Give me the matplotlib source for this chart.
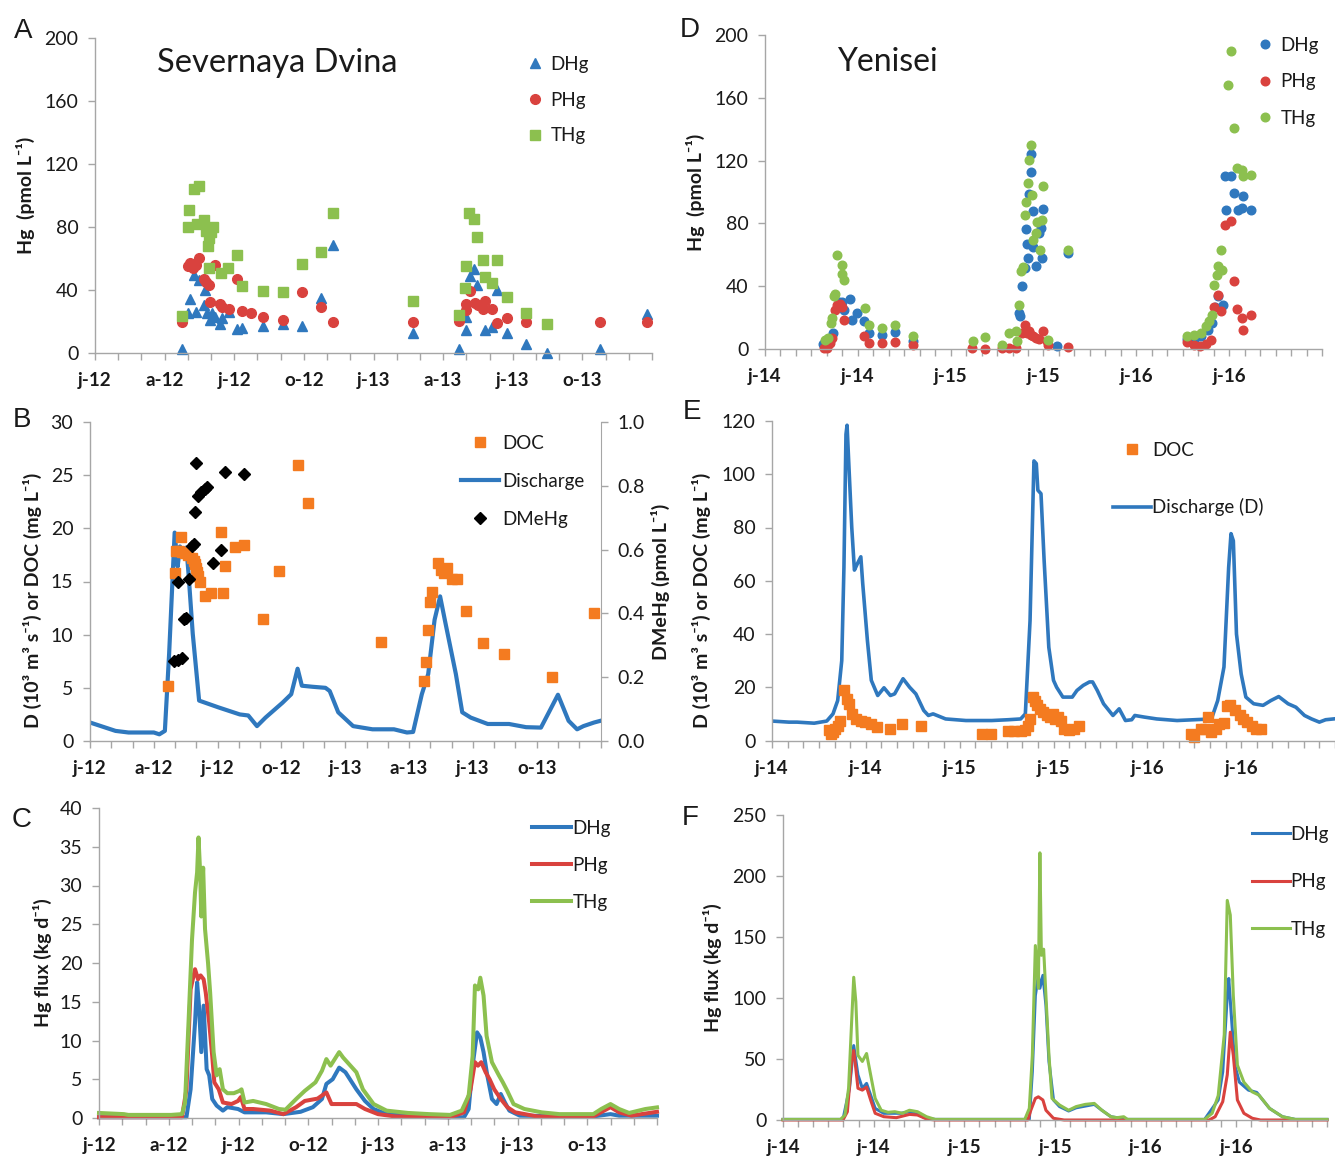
import matplotlib
matplotlib.use('Agg')
import matplotlib.pyplot as plt
from matplotlib.ticker import FormatStrFormatter

plt.rcParams['font.family'] = ['Lato', 'DejaVu Sans']

BLUE = '#2F78BE'
RED = '#D9423E'
GREEN = '#8CC04F'
ORANGE = '#F47B20'
AXC = '#A6A6A6'
TXT = '#1A1A1A'

# x values are months since 1 January of the first year shown
sd_labels = ['j-12', 'a-12', 'j-12', 'o-12', 'j-13', 'a-13', 'j-13', 'o-13']
ye_labels = ['j-14', 'j-14', 'j-15', 'j-15', 'j-16', 'j-16']

# --- A: Severnaya Dvina concentrations (pmol/L)
sd_dhg_m = [3.73, 4.0, 4.1, 4.28, 4.37, 4.47, 4.7, 4.74, 4.83, 4.96, 5.05, 5.17, 5.39, 5.47, 5.79, 6.14, 6.32, 7.26, 8.12, 8.9,
            9.74, 10.26, 13.7, 15.68, 16.0, 16.0, 16.14, 16.32, 16.45, 16.8, 17.1, 17.3, 17.76, 18.57, 19.49, 21.75, 23.79]
sd_dhg = [2.5, 25, 34, 49, 26, 46, 30, 40, 25, 20.7, 25.3, 22.8, 18, 21.7, 26, 14.7, 15.3, 16.8, 18, 16.8,
          34.5, 68.4, 12.6, 2.5, 22.8, 14.3, 48.8, 53, 43, 14.3, 16.4, 40, 12.6, 5.3, 0, 2.5, 24.5]
sd_phg_m = [3.73, 4.0, 4.1, 4.23, 4.34, 4.47, 4.7, 4.78, 4.93, 4.96, 5.17, 5.39, 5.47, 5.79, 6.14, 6.32, 6.73, 7.26, 8.12, 8.9,
            9.74, 10.26, 13.7, 15.68, 16.0, 16.0, 16.14, 16.36, 16.5, 16.7, 16.8, 17.1, 17.3, 17.76, 18.57, 21.75, 23.79]
sd_phg = [19.6, 54.7, 57, 53.7, 55.8, 60, 47, 45, 43, 32.4, 55.4, 31, 29, 27.5, 47, 26.6, 25.3, 22.8, 20.7, 38.3,
          28.8, 19.6, 19.6, 20, 27, 30.7, 38.8, 31.3, 30.2, 27.5, 32.8, 27.5, 18.5, 22, 19.6, 19.6, 19.6]
sd_thg_m = [3.73, 4.06, 4.0, 4.28, 4.47, 4.4, 4.7, 4.78, 4.87, 4.93, 5.0, 5.1, 4.93, 5.42, 5.75, 6.12, 6.32, 7.26, 8.12, 8.9,
            9.74, 10.26, 13.7, 15.68, 16.0, 15.96, 16.1, 16.32, 16.45, 16.7, 16.8, 17.1, 17.3, 17.76, 18.57, 19.49]
sd_thg = [23.4, 90.5, 80, 104, 106, 82, 84.5, 77, 68, 73, 76.5, 80, 53.7, 50.5, 54, 62, 42, 39, 38.3, 56,
          64, 89, 33, 24, 55, 41, 89, 85, 73.5, 59, 48, 44, 59, 35, 25, 18]

# --- D: Yenisei concentrations (pmol/L)
ye_dhg_m = [3.72, 4.0, 4.19, 4.4, 4.77, 4.96, 5.1, 5.5, 5.65, 5.92, 6.39, 6.75, 7.58, 8.4, 9.56, 16.4, 16.5, 16.6, 16.8, 16.86,
            16.94, 17.0, 17.08, 17.16, 17.2, 17.3, 17.35, 17.5, 17.7, 17.85, 17.9, 17.96, 18.87, 19.56, 27.27, 27.7, 28.2, 28.6, 28.9, 29.1,
            29.3, 29.6, 29.75, 30.1, 29.8, 30.3, 30.6, 30.8, 30.9, 31.4]
ye_dhg = [3.4, 2.8, 6, 10, 30, 30, 25, 32, 18.7, 22.7, 18, 10, 9, 10.8, 5, 22.9, 20.8, 40, 51.5, 76.6,
          67, 58, 99, 113, 124.5, 87.6, 65, 52.6, 73.8, 76.8, 58, 89, 1.7, 61, 6.4, 6, 8, 12.3, 16.5, 27,
          33.5, 28, 110, 110, 88.6, 99.5, 88.6, 90, 97.6, 88.4]
ye_phg_m = [3.8, 4.0, 4.19, 4.35, 4.55, 4.68, 4.82, 4.96, 5.1, 6.4, 6.75, 7.58, 8.4, 9.56, 13.4, 14.2, 15.3, 15.8, 16.2, 16.6,
            16.8, 16.94, 17.08, 17.2, 17.35, 17.5, 17.7, 17.96, 18.2, 18.3, 19.56, 27.27, 27.7, 28.1, 28.5, 28.8, 29.05, 29.3, 29.5, 29.75,
            30.1, 30.3, 30.5, 30.8, 30.9, 31.4]
ye_phg = [0.6, 0.6, 3.8, 7, 25, 27.8, 28.6, 26.5, 18.7, 8, 3.8, 3.8, 4.2, 2.8, 0.6, 0, 0.6, 0.6, 0.6, 10,
          15.5, 10, 11.2, 9, 8, 7, 6.4, 11.7, 5, 2.8, 1, 4.5, 2.8, 1.7, 3.4, 6, 27, 34.6, 24, 79,
          81.6, 43, 25.5, 19.7, 11.9, 21.4]
ye_thg_m = [3.86, 4.08, 4.27, 4.35, 4.46, 4.55, 4.68, 4.96, 5.0, 5.1, 6.47, 6.75, 7.58, 8.4, 9.56, 13.45, 14.2, 15.3, 15.8, 16.2,
            16.3, 16.4, 16.55, 16.7, 16.8, 16.9, 17.0, 17.08, 17.16, 17.27, 17.35, 17.5, 17.6, 17.8, 17.9, 17.99, 18.3, 19.56, 27.27, 27.7,
            28.2, 28.5, 28.7, 28.9, 29.05, 29.2, 29.3, 29.5, 29.56, 29.9, 30.1, 30.3, 30.5, 30.8, 30.9, 31.4]
ye_thg = [6, 7, 16.5, 20, 33.5, 35, 60, 53.7, 47.5, 44, 26, 15, 13.4, 15.3, 8, 5.3, 7.6, 2.8, 10, 11.2,
          5, 28, 50, 52.4, 85.5, 93.7, 105.6, 120.5, 130, 98, 69.6, 73.6, 81, 63, 82, 103.7, 6, 62.8, 8.5, 9,
          10, 14.4, 17.6, 21.8, 41, 47.3, 52.6, 63, 50.5, 168, 190, 140.6, 115, 114, 110, 110.7]

# --- B: Severnaya Dvina discharge (10^3 m3/s), DOC (mg/L), DMeHg (pmol/L)
sd_q_m = [0, 1.2, 1.81, 3.0, 3.26, 3.52, 3.72, 3.98, 4.12, 4.23, 4.39, 4.53, 4.63, 4.83, 5.13, 6.04, 7.04, 7.44, 7.85, 8.25,
          9.05, 9.46, 9.66, 9.76, 9.96, 10.46, 11.07, 11.27, 11.67, 12.37, 13.28, 14.29, 14.9, 15.19, 15.6, 15.9, 16.2, 16.46, 16.7, 17.2,
          17.5, 17.9, 18.7, 19.7, 20.5, 21.2, 21.6, 22.0, 22.5, 22.9, 23.2, 23.7, 24.0]
sd_q = [1.74, 0.95, 0.8, 0.8, 0.63, 0.95, 8.2, 19.6, 16.4, 18.3, 17.4, 18.2, 15.8, 10.1, 3.8, 3.16, 2.5, 2.4, 1.4, 2.2,
        3.6, 4.4, 6.0, 6.8, 5.2, 5.1, 5.0, 4.7, 2.7, 1.4, 1.1, 1.1, 0.8, 0.85, 4.4, 6.3, 11.4, 13.6, 11.2, 6.3,
        2.7, 2.2, 1.6, 1.6, 1.3, 1.26, 2.8, 4.35, 1.9, 1.1, 1.4, 1.74, 1.9]
sd_doc_m = [3.68, 3.98, 4.27, 4.06, 4.18, 4.33, 4.47, 4.63, 4.79, 4.87, 4.93, 4.99, 5.03, 5.09, 5.17, 5.39, 5.69, 6.24, 6.14, 6.34,
            6.84, 7.24, 8.13, 8.89, 9.76, 10.26, 13.68, 15.7, 15.8, 15.9, 16.0, 16.1, 16.34, 16.5, 16.66, 16.8, 17.04, 17.26, 17.7, 18.47,
            19.48, 21.7, 23.7]
sd_doc = [5.15, 15.8, 19.2, 17.9, 17.9, 17.8, 17.7, 17.5, 17.2, 16.9, 16.6, 16.3, 15.9, 15.5, 15.0, 13.6, 13.9, 13.9, 19.7, 16.5,
          18.2, 18.4, 11.5, 16.0, 26.0, 22.4, 9.3, 5.6, 7.4, 10.4, 13.1, 14.05, 16.7, 16.1, 15.8, 16.3, 15.2, 15.2, 12.2, 9.2,
          8.2, 6.0, 12.0]
sd_mehg_m = [3.96, 4.12, 4.33, 4.12, 4.43, 4.49, 4.67, 4.79, 4.87, 4.93, 4.99, 5.07, 5.23, 5.39, 5.49, 5.8, 6.14, 6.34, 7.24]
sd_mehg = [0.25, 0.255, 0.26, 0.50, 0.384, 0.387, 0.507, 0.61, 0.616, 0.718, 0.87, 0.768, 0.779, 0.79, 0.795, 0.558, 0.598, 0.844, 0.837]

# --- E: Yenisei discharge and DOC
ye_q_m = [0, 1.08, 1.6, 2.7, 3.5, 3.9, 4.2, 4.46, 4.6, 4.73, 4.8, 4.92, 5.1, 5.27, 5.46, 5.68, 5.8, 6.1, 6.35, 6.76,
          7.16, 7.57, 7.84, 8.38, 8.8, 9.2, 9.7, 10.0, 10.3, 11.1, 12.4, 14.05, 15.1, 15.9, 16.2, 16.5, 16.75, 16.9, 17.0, 17.2,
          17.4, 17.7, 18.0, 18.2, 18.6, 19.2, 19.5, 19.9, 20.3, 20.5, 20.8, 21.2, 21.8, 22.2, 22.6, 23.0, 23.2, 23.8, 24.6, 25.9,
          27.0, 28.1, 28.5, 28.9, 29.2, 29.35, 29.5, 29.7, 30.0, 30.3, 30.8, 31.4, 31.9, 32.4, 33.0, 33.5, 34.05, 34.5, 35.0, 35.4,
          35.9]
ye_q = [7.3, 6.9, 6.9, 6.5, 7.3, 10, 15, 30, 65, 115, 118.4, 102.8, 80, 64, 66.4, 69, 59, 37.6, 22.6, 16.9,
        19.8, 16.9, 17.5, 23.2, 20, 17.5, 11.3, 9.4, 10, 8.1, 7.5, 7.5, 7.8, 8.1, 10, 45, 105, 104, 94, 92.7,
        67.7, 35, 22.6, 20, 16.3, 16.3, 18.8, 20.7, 22, 22, 18.8, 13.8, 9.4, 11.9, 7.5, 7.8, 9.4, 8.8, 8.1, 7.5,
        7.8, 8.1, 15, 27.6, 65, 77.7, 75, 40, 25, 16.3, 13.8, 13.2, 15, 16.5, 13.8, 12.5, 9.4, 8.1, 6.9, 7.8,
        8.1]
ye_doc_m = [3.65, 3.78, 3.9, 4.05, 4.2, 4.32, 4.6, 4.8, 4.92, 5.1, 5.4, 5.68, 5.95, 6.35, 6.7, 7.57, 8.3, 9.5, 13.4, 14.0,
            15.1, 15.5, 15.9, 16.2, 16.35, 16.5, 16.7, 16.8, 16.97, 17.16, 17.35, 17.57, 17.8, 17.97, 18.1, 18.3, 18.5, 18.7, 18.97, 19.3,
            19.6, 26.8, 27.0, 27.4, 27.7, 27.9, 28.1, 28.4, 28.6, 28.9, 29.1, 29.3, 29.6, 29.9, 30.1, 30.4, 30.7, 30.95, 31.3]
ye_doc = [3.8, 2.5, 3.1, 4.4, 5.6, 7.5, 19, 15.7, 13.8, 10, 8.1, 7.5, 6.9, 6.3, 5, 4.4, 6.3, 5.4, 2.5, 2.5,
          3.4, 3.4, 3.4, 3.8, 5.6, 8.1, 16.3, 15, 13.2, 11.9, 10.7, 9.4, 8.8, 10, 8.1, 9, 7.5, 4.4, 4, 4.4,
          5.6, 2.5, 1.25, 4.4, 4.4, 8.8, 3.1, 4.4, 6.3, 6.5, 12.8, 13.2, 11.3, 9.4, 8.1, 6.9, 5.6, 4.4, 4.4]

# --- C: Severnaya Dvina Hg flux (kg/d)
sd_fdhg_m = [0, 3.76, 3.94, 4.13, 4.22, 4.3, 4.4, 4.5, 4.63, 4.74, 4.87, 5.06, 5.33, 5.52, 5.98, 6.26, 7.19, 7.93, 8.67, 9.2,
             9.59, 9.78, 10.05, 10.33, 10.6, 11.07, 11.44, 11.81, 12.37, 14.2, 15.7, 15.9, 16.07, 16.26, 16.4, 16.54, 16.7, 16.9, 17.1, 17.28,
             17.46, 17.65, 18.1, 21.26, 22.0, 22.37, 24.0]
sd_fdhg = [0.1, 0.1, 3.7, 12.3, 17.5, 14.5, 8.5, 14.5, 6.3, 5.5, 2.45, 1.6, 0.95, 1.4, 1.16, 0.73, 0.73, 0.5, 0.8, 1.4,
           2.45, 4.4, 5.0, 6.5, 5.9, 3.7, 2.2, 1.16, 0.5, 0.1, 0.1, 1.16, 6.75, 11.05, 10.4, 8.5, 5.5, 2.45, 1.8, 3.1,
           2.0, 0.95, 0.3, 0.2, 0.5, 0.3, 0.3]
sd_fphg_m = [0, 3.57, 3.76, 3.94, 4.13, 4.26, 4.37, 4.5, 4.59, 4.74, 4.87, 4.96, 5.15, 5.33, 5.7, 5.98, 6.1, 6.26, 6.63, 7.37,
             7.93, 8.48, 8.85, 9.4, 9.78, 10.0, 10.33, 11.07, 11.44, 12.0, 12.74, 15.1, 15.7, 15.98, 16.17, 16.3, 16.44, 16.63, 16.8, 17.0,
             17.28, 17.56, 17.9, 18.85, 21.26, 22.0, 22.37, 22.9, 24.0]
sd_fphg = [0.1, 0.1, 3.7, 16.6, 19.2, 17.9, 18.4, 17.9, 16.2, 12.3, 8.0, 4.6, 3.7, 2.0, 1.8, 2.2, 2.7, 1.16, 1.16, 0.95,
           0.5, 1.4, 2.2, 2.5, 3.3, 1.8, 1.8, 1.8, 1.16, 0.5, 0.2, 0.1, 0.73, 3.7, 7.2, 6.75, 7.2, 5.9, 5.0, 3.7,
           2.45, 1.4, 0.73, 0.2, 0.2, 1.4, 0.73, 0.3, 0.8]
sd_fthg_m = [0, 1.07, 1.26, 3.1, 3.57, 3.7, 3.85, 4.0, 4.13, 4.22, 4.28, 4.35, 4.4, 4.48, 4.56, 4.69, 4.78, 4.93, 5.06, 5.19,
             5.33, 5.52, 5.8, 6.04, 6.13, 6.26, 6.63, 7.19, 7.74, 8.02, 8.48, 8.85, 9.31, 9.59, 9.78, 9.96, 10.33, 10.5, 11.07, 11.35,
             11.81, 12.37, 13.3, 14.2, 15.1, 15.6, 15.9, 16.07, 16.17, 16.31, 16.4, 16.54, 16.67, 16.9, 17.2, 17.37, 17.56, 17.83, 18.3, 19.04,
             19.8, 21.26, 21.6, 22.0, 22.37, 22.8, 23.5, 24.0]
sd_fthg = [0.65, 0.5, 0.4, 0.4, 0.5, 2.0, 12.3, 23, 29.1, 31.7, 36.2, 31.7, 26, 32.3, 24.4, 20, 16.2, 8.5, 5.5, 6.3,
           3.7, 3.2, 3.2, 3.5, 3.7, 2.0, 2.2, 1.8, 1.16, 1.07, 2.45, 3.5, 4.6, 6.1, 7.6, 6.75, 8.5, 7.8, 5.9, 3.7,
           1.8, 0.95, 0.65, 0.5, 0.4, 0.95, 2.9, 8.0, 17.1, 16.6, 18.1, 15.8, 10.6, 7.2, 5.5, 4.6, 3.5, 1.8, 1.16, 0.73,
           0.5, 0.5, 1.16, 1.8, 1.16, 0.65, 1.16, 1.37]

# --- F: Yenisei Hg flux (kg/d)
ye_fdhg_m = [0, 3.97, 4.4, 4.68, 4.96, 5.25, 5.53, 5.8, 6.1, 6.67, 7.8, 8.37, 8.9, 9.5, 10.07, 16.3, 16.5, 16.7, 16.9, 17.0,
             17.2, 17.4, 17.6, 17.9, 18.3, 18.9, 19.4, 20.6, 21.1, 21.7, 22.8, 27.9, 28.8, 29.1, 29.4, 29.5, 29.7, 29.9, 30.2, 30.8,
             31.35, 32.2, 33.05, 33.9, 36.0]
ye_fdhg = [0.5, 0.5, 26, 61, 37, 26, 30, 20.4, 9.5, 5.5, 5.5, 6.8, 4.6, 1.4, 0.5, 0.5, 39.5, 102, 118.6, 108,
           118.6, 94, 48, 16.4, 11, 7.4, 10, 12.8, 8, 2.7, 0.5, 0.5, 16.4, 39.5, 102, 116, 80, 45, 31, 24.5,
           22.6, 9.5, 2.7, 0.5, 0.5]
ye_fphg_m = [0, 3.97, 4.26, 4.54, 4.68, 4.82, 4.96, 5.25, 5.53, 5.8, 6.1, 6.67, 7.5, 8.37, 8.9, 9.5, 10.07, 16.2, 16.4, 16.7,
             16.9, 17.2, 17.4, 17.9, 18.6, 28.2, 28.6, 29.1, 29.4, 29.6, 29.8, 30.07, 30.5, 31.06, 31.6, 36.0]
ye_fphg = [0, 0, 6.8, 48, 57, 42, 26, 24.5, 27, 16.4, 5.5, 2.7, 1.9, 4.6, 4.1, 0.8, 0, 0, 8, 17.7,
           19, 16.4, 8, 1.4, 0, 0, 2.7, 15, 37, 72, 53, 16.4, 5.5, 1.4, 0, 0]
ye_fthg_m = [0, 3.8, 4.1, 4.34, 4.54, 4.68, 4.82, 4.96, 5.25, 5.53, 5.8, 6.1, 6.5, 6.95, 7.4, 7.9, 8.37, 8.9, 9.5, 10.07,
             16.0, 16.3, 16.5, 16.7, 16.9, 17.0, 17.1, 17.25, 17.4, 17.6, 17.8, 18.3, 18.9, 19.4, 20.0, 20.6, 21.1, 21.7, 22.1, 22.55,
             22.8, 27.9, 28.4, 28.8, 29.2, 29.4, 29.6, 29.8, 30.07, 30.5, 31.06, 31.5, 32.2, 33.05, 33.9, 36.0]
ye_fthg = [0.5, 0.5, 4, 26, 80, 117, 97, 53, 48, 54.5, 37, 17.7, 8, 6.3, 6.8, 5.5, 8, 6.8, 2.7, 0.5,
           0.5, 9.5, 53, 143, 108, 219, 135, 140, 102, 53, 17.7, 12.3, 8, 11, 12.8, 13.6, 8, 2.7, 1.9, 2.7,
           0.5, 0.5, 5.5, 20, 70, 180, 168, 102, 45, 31, 23, 20.4, 9.5, 2.7, 0.5, 0.5]

W, H = 1335, 1160
fig = plt.figure(figsize=(W / 100, H / 100), dpi=100)


def px_axes(l, t, r, b):
    return fig.add_axes([l / W, 1 - b / H, (r - l) / W, (b - t) / H])


def frame(ax, nmonths, labels, step, yticks, ylabel, lab_x, lab_y=0.5):
    ax.set_xlim(0, nmonths)
    ax.set_ylim(yticks[0], yticks[-1])
    ticks = list(range(nmonths + 1))
    txt = [''] * len(ticks)
    for i, s in enumerate(labels):
        txt[i * step] = s
    ax.set_xticks(ticks)
    ax.set_xticklabels(txt, fontsize=13.5, fontweight='bold', color=TXT)
    ax.set_yticks(yticks)
    ax.tick_params(axis='x', direction='out', length=5, width=1, color=AXC, pad=9)
    ax.tick_params(axis='y', direction='out', length=5, width=1, color=AXC, pad=7,
                   labelsize=14, labelcolor=TXT)
    for s in ['top', 'right']:
        ax.spines[s].set_visible(False)
    for s in ['left', 'bottom']:
        ax.spines[s].set_color(AXC)
        ax.spines[s].set_linewidth(1)
    ax.set_ylabel(ylabel, fontsize=14, fontweight='bold', color=TXT)
    ax.yaxis.set_label_coords(lab_x, lab_y)


def legend(ax, handles, x, y, hlen, hpad, lspace):
    ax.legend(handles=handles, loc='upper left', bbox_to_anchor=(x / W, 1 - y / H),
              bbox_transform=fig.transFigure, frameon=False, borderpad=0, borderaxespad=0,
              handlelength=hlen, handletextpad=hpad, labelspacing=lspace,
              prop={'size': 13.5}, labelcolor=TXT)


hg_label = 'Hg  (pmol L\u207b\u00b9)'
d_label = 'D (10\u00b3 m\u00b3 s\u207b\u00b9) or DOC (mg L\u207b\u00b9)'
flux_label = 'Hg flux (kg d\u207b\u00b9)'

# ---------------- A
axA = px_axes(95, 38, 652, 352.5)
frame(axA, 24, sd_labels, 3, [0, 40, 80, 120, 160, 200], hg_label, -0.108)
hA1, = axA.plot(sd_dhg_m, sd_dhg, ls='none', marker='^', ms=6.5, color=BLUE, label='DHg', clip_on=False)
hA2, = axA.plot(sd_phg_m, sd_phg, ls='none', marker='o', ms=7, color=RED, label='PHg', clip_on=False)
hA3, = axA.plot(sd_thg_m, sd_thg, ls='none', marker='s', ms=6.5, color=GREEN, label='THg', clip_on=False)
legend(axA, [hA1, hA2, hA3], 526, 56, 1.0, 0.3, 1.0)
fig.text(157 / W, 1 - 63 / H, 'Severnaya Dvina', fontsize=23.5, ha='left', va='center', color=TXT)

# ---------------- D
axD = px_axes(765, 35, 1322, 349)
frame(axD, 36, ye_labels, 6, [0, 40, 80, 120, 160, 200], hg_label, -0.108)
hD1, = axD.plot(ye_dhg_m, ye_dhg, ls='none', marker='o', ms=6.2, color=BLUE, label='DHg', clip_on=False)
hD2, = axD.plot(ye_phg_m, ye_phg, ls='none', marker='o', ms=6.2, color=RED, label='PHg', clip_on=False)
hD3, = axD.plot(ye_thg_m, ye_thg, ls='none', marker='o', ms=6.2, color=GREEN, label='THg', clip_on=False)
legend(axD, [hD1, hD2, hD3], 1256, 37, 1.0, 0.3, 1.04)
fig.text(837 / W, 1 - 62 / H, 'Yenisei', fontsize=23, ha='left', va='center', color=TXT)

# ---------------- B
axB = px_axes(90, 422, 600.5, 741)
frame(axB, 24, sd_labels, 3, [0, 5, 10, 15, 20, 25, 30], d_label, -0.094, 0.44)
hB2, = axB.plot(sd_q_m, sd_q, color=BLUE, lw=3.0, label='Discharge', solid_joinstyle='round')
hB1, = axB.plot(sd_doc_m, sd_doc, ls='none', marker='s', ms=6.5, color=ORANGE, label='DOC', clip_on=False)
axB2 = axB.twinx()
axB2.set_ylim(0, 1)
axB2.set_yticks([0, 0.2, 0.4, 0.6, 0.8, 1.0])
axB2.yaxis.set_major_formatter(FormatStrFormatter('%.1f'))
axB2.tick_params(axis='y', direction='out', length=5, width=1, color=AXC, pad=7,
                 labelsize=14, labelcolor=TXT)
for s in ['top', 'left', 'bottom']:
    axB2.spines[s].set_visible(False)
axB2.spines['right'].set_color(AXC)
hB3, = axB2.plot(sd_mehg_m, sd_mehg, ls='none', marker='D', ms=6.5, color='black', label='DMeHg')
axB2.set_ylabel('DMeHg (pmol L\u207b\u00b9)', fontsize=14, fontweight='bold', color=TXT)
axB2.yaxis.set_label_coords(1.098, 0.5)
legend(axB2, [hB1, hB2, hB3], 461, 435, 2.0, 0.2, 1.12)

# ---------------- E
axE = px_axes(772, 421, 1335, 740.5)
frame(axE, 36, ye_labels, 6, [0, 20, 40, 60, 80, 100, 120], d_label, -0.108, 0.44)
hE2, = axE.plot(ye_q_m, ye_q, color=BLUE, lw=2.6, label='Discharge (D)')
hE1, = axE.plot(ye_doc_m, ye_doc, ls='none', marker='s', ms=6.5, color=ORANGE, label='DOC', clip_on=False)
legend(axE, [hE1, hE2], 1113, 442, 2.0, 0.1, 2.1)

# ---------------- C
axC = px_axes(99, 808, 657, 1118)
frame(axC, 24, sd_labels, 3, [0, 5, 10, 15, 20, 25, 30, 35, 40], flux_label, -0.084)
hC1, = axC.plot(sd_fdhg_m, sd_fdhg, color=BLUE, lw=2.9, label='DHg', clip_on=False)
hC2, = axC.plot(sd_fphg_m, sd_fphg, color=RED, lw=2.9, label='PHg', clip_on=False)
hC3, = axC.plot(sd_fthg_m, sd_fthg, color=GREEN, lw=2.9, label='THg', clip_on=False)
legend(axC, [hC1, hC2, hC3], 532, 820, 2.1, 0.05, 1.06)

# ---------------- F
axF = px_axes(783, 815, 1327, 1120)
frame(axF, 36, ye_labels, 6, [0, 50, 100, 150, 200, 250], flux_label, -0.112)
hF1, = axF.plot(ye_fdhg_m, ye_fdhg, color=BLUE, lw=2.2, label='DHg', clip_on=False)
hF2, = axF.plot(ye_fphg_m, ye_fphg, color=RED, lw=2.2, label='PHg', clip_on=False)
hF3, = axF.plot(ye_fthg_m, ye_fthg, color=GREEN, lw=2.2, label='THg', clip_on=False)
legend(axF, [hF1, hF2, hF3], 1252, 826, 2.0, 0.05, 1.62)

# panel letters
for s, x, y in [('A', 23, 31), ('B', 22, 420), ('C', 22, 820), ('D', 690, 30), ('E', 692, 412), ('F', 690, 818)]:
    fig.text(x / W, 1 - y / H, s, fontsize=20, ha='center', va='center', family='Liberation Sans', color=TXT)

fig.savefig('out.png', dpi=100)
